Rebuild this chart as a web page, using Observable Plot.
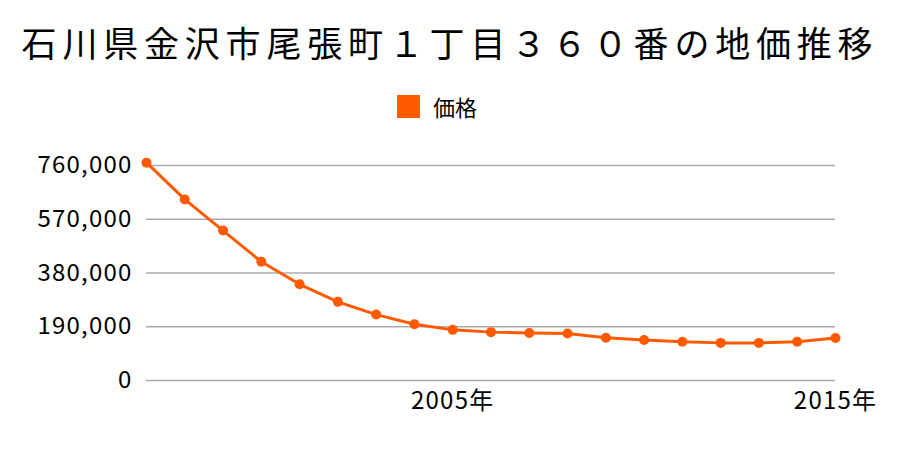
<!DOCTYPE html>
<html>
<head>
<meta charset="utf-8">
<script src="https://cdn.jsdelivr.net/npm/d3@7"></script>
<script src="https://cdn.jsdelivr.net/npm/@observablehq/plot@0.6"></script>
<style>
  body { margin: 0; background: #fff; font-family: "Noto Sans CJK JP", "Noto Sans", sans-serif; }
  #wrap { position: relative; width: 900px; height: 450px; overflow: hidden; }
  #title { position: absolute; left: 0; top: 16px; width: 900px; text-align: center; font-size: 35px; letter-spacing: 5.8px; line-height: 52px; color: #000; }
  #legend { position: absolute; left: 397px; top: 94px; height: 24px; display: flex; align-items: center; font-size: 22px; color: #000; }
  #legend .sw { width: 23px; height: 23px; background: #ff5a00; margin-right: 13px; }
  #chart { position: absolute; left: 0; top: 130px; }
  #chart svg g[aria-label="y-axis tick label"] text, #chart svg g[aria-label="x-axis tick label"] text { letter-spacing: 1.2px; }
</style>
</head>
<body>
<div id="wrap">
  <div id="title">石川県金沢市尾張町１丁目３６０番の地価推移</div>
  <div id="legend"><div class="sw"></div><span>価格</span></div>
  <div id="chart"></div>
</div>
<script>
const years = [1997, 1998, 1999, 2000, 2001, 2002, 2003, 2004, 2005, 2006, 2007, 2008, 2009, 2010, 2011, 2012, 2013, 2014, 2015];
const prices = [770000, 640000, 530000, 420000, 340000, 278000, 233000, 199000, 179000, 171000, 168000, 166000, 151000, 143000, 137000, 133000, 133000, 137000, 150000];
const yTicks = [0, 190000, 380000, 570000, 760000];
const xTicks = [2005, 2015];
const seriesName = "価格";

const data = years.map((y, i) => ({year: y, price: prices[i], series: seriesName}));
const color = "#ff5a00";

const chart = Plot.plot({
  width: 900,
  height: 320,
  marginLeft: 146,
  marginRight: 65,
  marginTop: 35,
  marginBottom: 70,
  style: { fontFamily: '"Noto Sans CJK JP", "Noto Sans", sans-serif', fontSize: "24px", color: "#000", background: "#fff" },
  x: { domain: [1997, 2015], ticks: xTicks, tickFormat: d => d + "年", tickSize: 0, tickPadding: 11, label: null },
  y: { domain: [0, 760000], ticks: yTicks, tickFormat: d3.format(","), tickSize: 0, tickPadding: 14, label: null },
  marks: [
    Plot.gridY(yTicks, { stroke: "#aaa", strokeOpacity: 1, strokeWidth: 1.3 }),
    Plot.axisY({ ticks: yTicks, tickFormat: d3.format(","), tickSize: 0, tickPadding: 14, fontSize: 24, label: null }),
    Plot.axisX({ ticks: xTicks, tickFormat: d => d + "年", tickSize: 0, tickPadding: 11, fontSize: 24, label: null }),
    Plot.line(data, { x: "year", y: "price", stroke: color, strokeWidth: 3 }),
    Plot.dot(data, { x: "year", y: "price", fill: color, r: 5 })
  ]
});
document.getElementById("chart").appendChild(chart);
</script>
</body>
</html>
